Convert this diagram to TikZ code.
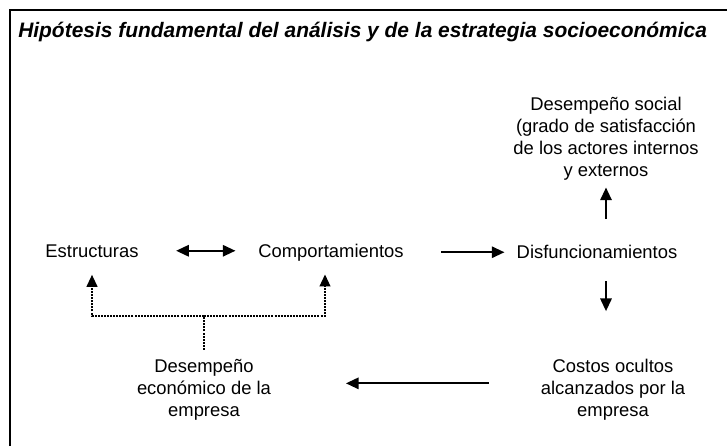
\documentclass[tikz,border=0pt]{standalone}
\usepackage{fontspec}
\setmainfont{Liberation Sans}
\usetikzlibrary{arrows.meta}
\usetikzlibrary{positioning}

\tikzset{
  box text/.style={align=center, inner sep=2pt,
    font=\fontsize{13.8}{16.5}\selectfont},
  title text/.style={inner sep=0pt,
    font=\fontsize{15.7}{18}\selectfont\bfseries\itshape},
  flow/.style={line width=1.5pt, -{Triangle[length=9.5pt,width=8.5pt]}},
  feedback/.style={line width=1.5pt, dash pattern=on 1.5pt off 0.8pt}
}

\begin{document}
\begin{tikzpicture}[x=0.75pt, y=-0.75pt]
  \useasboundingbox (0,0) rectangle (727,446);

  % frame, only its top and left edges are in view
  \draw [line width=1.5pt] (9.5,446) -- (9.5,9.5) -- (727,9.5);
  \node [title text, anchor=base west] (title) at (18,37)
    {Hipótesis fundamental del análisis y de la estrategia socioeconómica};

  % the five blocks of the loop
  \node [box text, anchor=base] (est)    at (92,257)  {Estructuras};
  \node [box text, anchor=base] (comp)   at (331,257) {Comportamientos};
  \node [box text, anchor=base] (disf)   at (597,258) {Disfuncionamientos};
  \node [box text] (social) at (606,139) {Desempeño social\\(grado de satisfacción\\de los actores internos\\y externos};
  \node [box text] (costos) at (613,390) {Costos ocultos\\alcanzados por la\\empresa};
  \node [box text] (econ)   at (204,390) {Desempeño\\económico de la\\empresa};

  % main arrows
  \draw [flow, {Triangle[length=9.5pt,width=8.5pt]}-{Triangle[length=9.5pt,width=8.5pt]},
    shorten <=26pt, shorten >=15pt] (est.east) -- (est.east -| comp.west);
  \draw [flow, shorten <=26pt, shorten >=7pt] (comp.east) -- (comp.east -| disf.west);
  \draw [flow, shorten <=17pt, shorten >=3pt] (disf.north -| social.south) -- (social.south);
  \draw [flow, shorten <=15pt, shorten >=34pt] (disf.south -| social.south) -- (costos.north -| social.south);
  \draw [flow, shorten <=37pt, shorten >=54pt] ([yshift=5pt]costos.west) -- ([yshift=5pt]costos.west -| econ.east);

  % dotted feedback from the economic result
  \coordinate (fork) at (econ.north |- 0,316);
  \draw [feedback, shorten <=5pt] (econ.north) -- (fork);
  \draw [feedback, -{Triangle[length=9pt,width=8pt]}, shorten >=11pt] (fork) -| (est.south);
  \draw [feedback, -{Triangle[length=9pt,width=8pt]}, shorten >=8pt] (fork) -| ([xshift=-4.5pt]comp.south);
\end{tikzpicture}
\end{document}
